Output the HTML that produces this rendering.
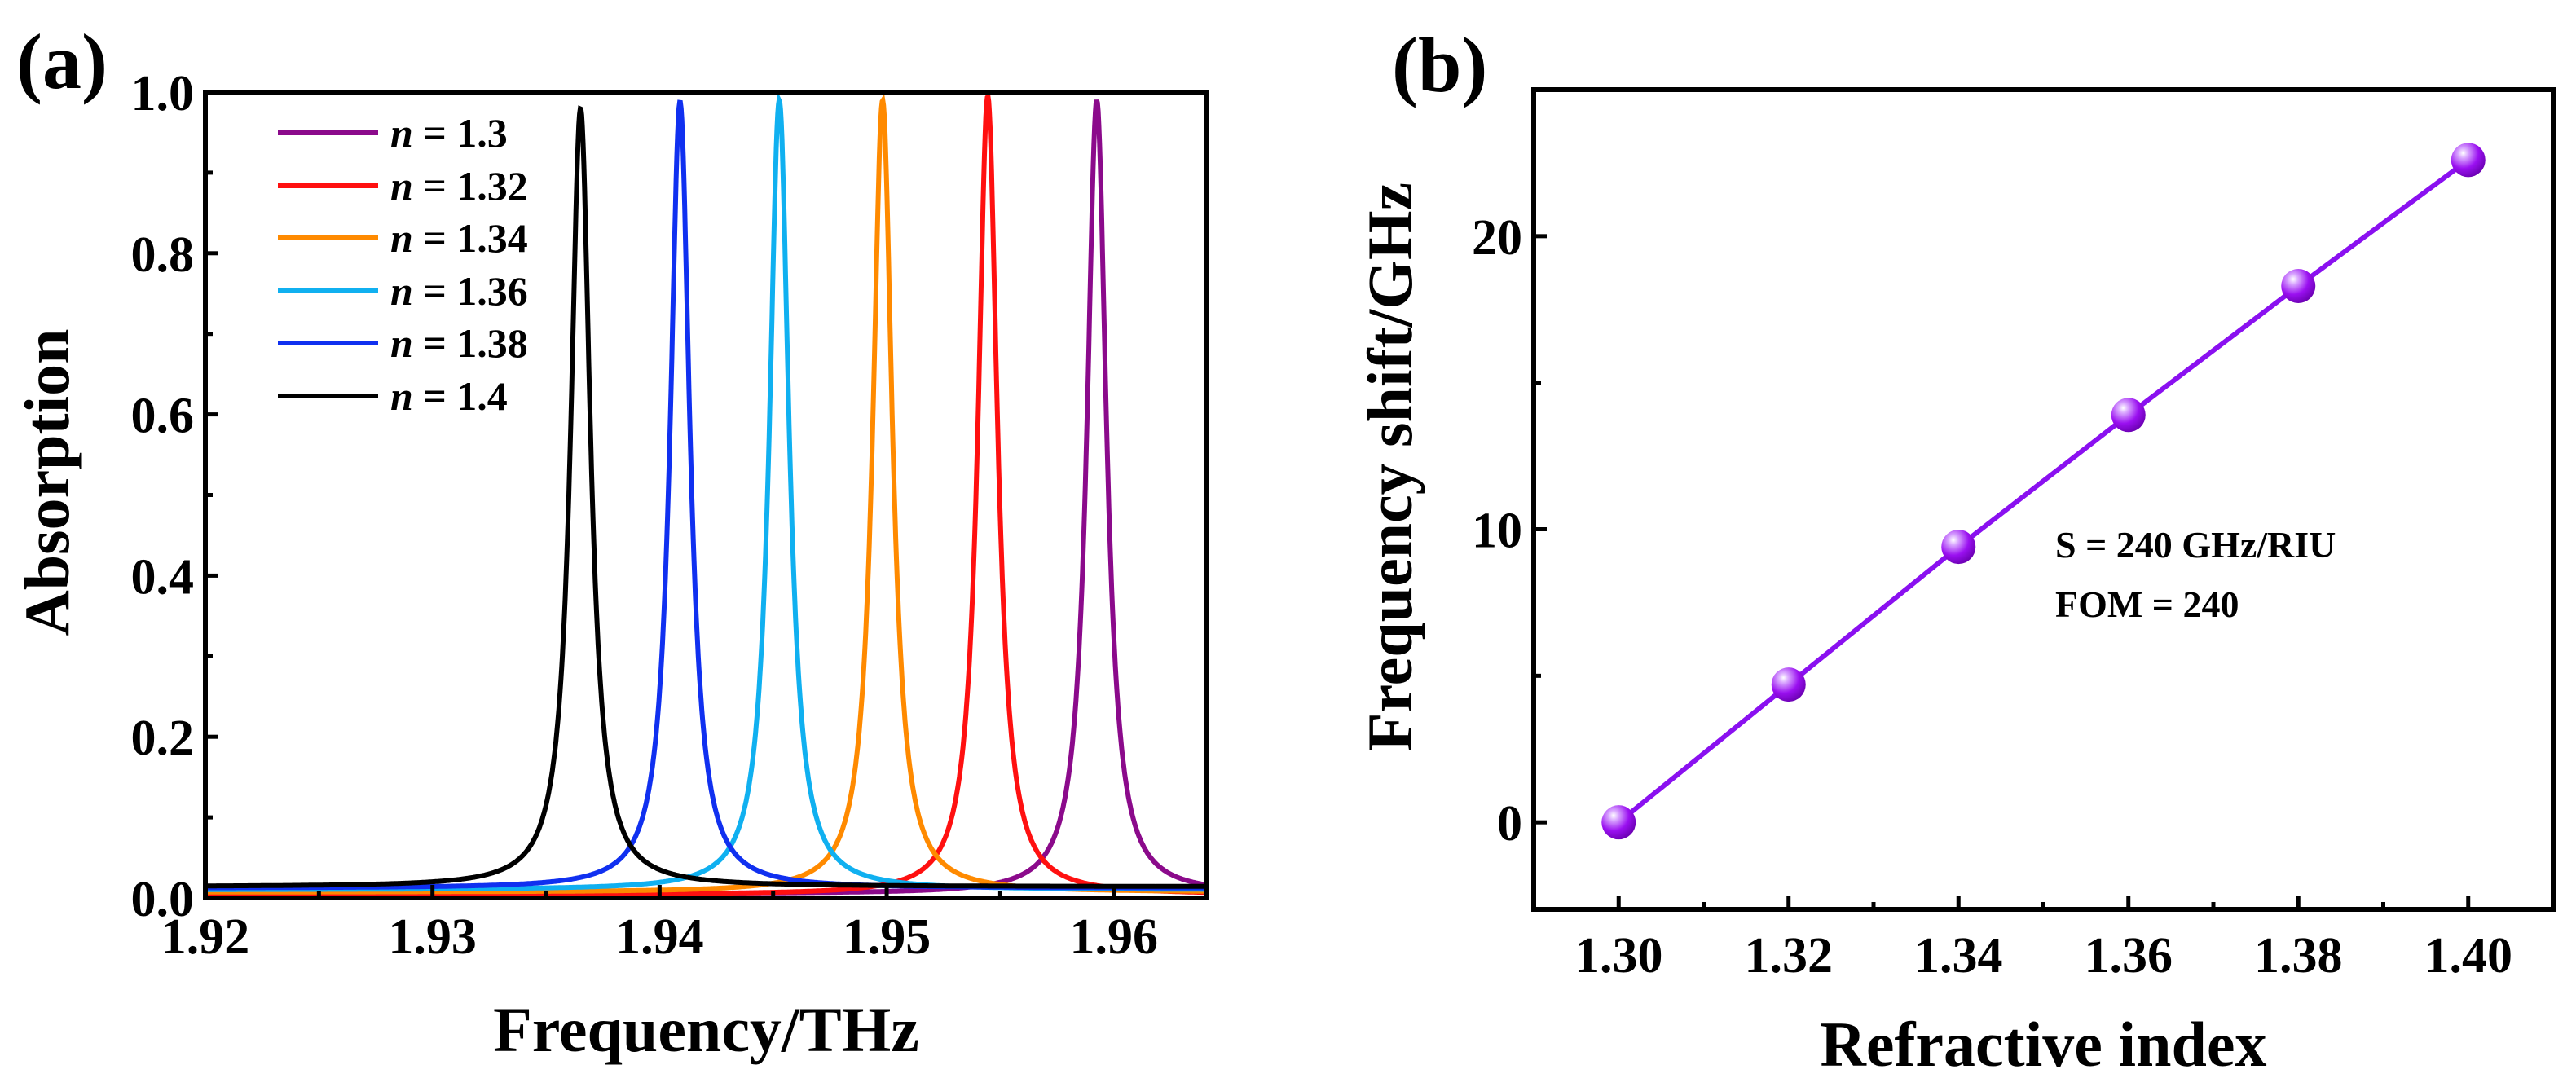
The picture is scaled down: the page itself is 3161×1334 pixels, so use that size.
<!DOCTYPE html>
<html><head><meta charset="utf-8"><style>
html,body{margin:0;padding:0;background:#fff;overflow:hidden;}
svg{display:block;}
text{font-family:"Liberation Serif",serif;font-weight:bold;fill:#000;}
</style></head><body>
<svg id="fig" width="3161" height="1334" viewBox="0 0 3161 1334" xmlns="http://www.w3.org/2000/svg">
<defs>
<radialGradient id="ball" cx="0.35" cy="0.3" r="0.75">
<stop offset="0" stop-color="#ffffff"/><stop offset="0.2" stop-color="#d9a6ff"/><stop offset="0.6" stop-color="#9a10f0"/><stop offset="1" stop-color="#6a00b0"/>
</radialGradient>
<clipPath id="clipA"><rect x="252" y="113" width="1229" height="989"/></clipPath>
</defs>
</svg>
<script>
// Panel (a) data
const peakFreqs = [1.95925, 1.95445, 1.94982, 1.94527, 1.9409, 1.93652];
const peakHeights = [0.99, 0.995, 0.99, 0.99, 0.988, 0.98];
const baselines = [0.005, 0.004, 0.007, 0.01, 0.012, 0.014];
const seriesLabels = ['1.3','1.32','1.34','1.36','1.38','1.4'];
const seriesColors = ['#8b0a8b','#ff1010','#ff8a00','#10b0f0','#1030f0','#000000'];
const xTicksA = [1.92,1.93,1.94,1.95,1.96];
const yTicksA = [0,0.2,0.4,0.6,0.8,1.0];
// Panel (b) data
const refIndex = [1.30,1.32,1.34,1.36,1.38,1.40];
const freqShift = [0, 4.7, 9.4, 13.9, 18.3, 22.6];
const xTicksB = ['1.30','1.32','1.34','1.36','1.38','1.40'];
const yTicksB = [0,10,20];

const NS='http://www.w3.org/2000/svg';
const svg=document.getElementById('fig');
function mk(tag,attrs,parent){const e=document.createElementNS(NS,tag);for(const k in attrs)e.setAttribute(k,attrs[k]);(parent||svg).appendChild(e);return e;}

// ---- Panel A ----
const A={x0:252,x1:1481,y0:1102,y1:113,xmin:1.92,xmax:1.9641,ymin:0,ymax:1.0};
const ax=v=>A.x0+(v-A.xmin)/(A.xmax-A.xmin)*(A.x1-A.x0);
const ay=v=>A.y0-(v-A.ymin)/(A.ymax-A.ymin)*(A.y0-A.y1);
const gA=mk('g',{});


const gam=0.00052;
for(let s=0;s<peakFreqs.length;s++){
  let d='';
  for(let i=0;i<=1400;i++){
    const f=A.xmin+(A.xmax-A.xmin)*i/1400;
    const dx=(f-peakFreqs[s])/gam;
    const v=baselines[s]+(peakHeights[s]-baselines[s])/(1+dx*dx);
    d+=(i?'L':'M')+ax(f).toFixed(1)+' '+ay(v).toFixed(1);
  }
  const p=mk('path',{d:d,fill:'none',stroke:seriesColors[s],'stroke-width':6,'clip-path':'url(#clipA)'},gA);
  
  
}
const frA=mk('rect',{x:A.x0,y:A.y1,width:A.x1-A.x0,height:A.y0-A.y1,fill:'none',stroke:'#000','stroke-width':6},gA);


xTicksA.forEach(v=>{
  const x=ax(v);
  mk('line',{x1:x,y1:A.y0,x2:x,y2:A.y0-16,stroke:'#000','stroke-width':5},gA);
  const t=mk('text',{x:x,y:1170,'font-size':62,'text-anchor':'middle'},gA);t.textContent=v.toFixed(2);
  
  
});
for(let v=1.925;v<A.xmax;v+=0.01){const x=ax(v);mk('line',{x1:x,y1:A.y0,x2:x,y2:A.y0-9,stroke:'#000','stroke-width':5},gA);}
yTicksA.forEach(v=>{
  const y=ay(v);
  mk('line',{x1:A.x0,y1:y,x2:A.x0+16,y2:y,stroke:'#000','stroke-width':5},gA);
  const t=mk('text',{x:A.x0-14,y:y+22,'font-size':62,'text-anchor':'end'},gA);t.textContent=v.toFixed(1);
  
  
});
for(let v=0.1;v<1;v+=0.2){const y=ay(v);mk('line',{x1:A.x0,y1:y,x2:A.x0+9,y2:y,stroke:'#000','stroke-width':5},gA);}
let t=mk('text',{x:(A.x0+A.x1)/2,y:1290,'font-size':78,'text-anchor':'middle'},gA);t.textContent='Frequency/THz';


t=mk('text',{x:0,y:0,'font-size':78,'text-anchor':'middle',transform:'translate(84,592) rotate(-90)'},gA);t.textContent='Absorption';


t=mk('text',{x:20,y:108,'font-size':96},gA);t.textContent='(a)';


const legY=[163,228,292,357,421,486];
for(let s=0;s<seriesLabels.length;s++){
  const g=mk('g',{},gA);
  
  
  mk('line',{x1:341,y1:legY[s],x2:464,y2:legY[s],stroke:seriesColors[s],'stroke-width':6},g);
  const tx=mk('text',{x:479,y:legY[s]+17,'font-size':50},g);
  const it=mk('tspan',{'font-style':'italic'},tx);it.textContent='n';
  const r=mk('tspan',{},tx);r.textContent=' = '+seriesLabels[s];
}

// ---- Panel B ----
const B={x0:1882,x1:3133,y0:1116,y1:110,xmin:1.29,xmax:1.41,ymin:-2.97,ymax:25};
const bx=v=>B.x0+(v-B.xmin)/(B.xmax-B.xmin)*(B.x1-B.x0);
const by=v=>B.y0-(v-B.ymin)/(B.ymax-B.ymin)*(B.y0-B.y1);
const gB=mk('g',{});


const frB=mk('rect',{x:B.x0,y:B.y1,width:B.x1-B.x0,height:B.y0-B.y1,fill:'none',stroke:'#000','stroke-width':6},gB);


xTicksB.forEach(s=>{
  const x=bx(parseFloat(s));
  mk('line',{x1:x,y1:B.y0,x2:x,y2:B.y0-16,stroke:'#000','stroke-width':5},gB);
  const tt=mk('text',{x:x,y:1193,'font-size':62,'text-anchor':'middle'},gB);tt.textContent=s;
  
  
});
for(let v=1.31;v<1.405;v+=0.02){const x=bx(v);mk('line',{x1:x,y1:B.y0,x2:x,y2:B.y0-9,stroke:'#000','stroke-width':5},gB);}
yTicksB.forEach(v=>{
  const y=by(v);
  mk('line',{x1:B.x0,y1:y,x2:B.x0+16,y2:y,stroke:'#000','stroke-width':5},gB);
  const tt=mk('text',{x:B.x0-14,y:y+22,'font-size':62,'text-anchor':'end'},gB);tt.textContent=v;
  
  
});
[5,15].forEach(v=>{const y=by(v);mk('line',{x1:B.x0,y1:y,x2:B.x0+9,y2:y,stroke:'#000','stroke-width':5},gB);});
let d='';refIndex.forEach((v,i)=>{d+=(i?'L':'M')+bx(v)+' '+by(freqShift[i]);});
const ln=mk('path',{d:d,fill:'none',stroke:'#8a10f0','stroke-width':6},gB);


refIndex.forEach((v,i)=>{
  const c=mk('circle',{cx:bx(v),cy:by(freqShift[i]),r:21,fill:'url(#ball)'},gB);
  
  
});
t=mk('text',{x:2522,y:684,'font-size':46},gB);t.textContent='S = 240 GHz/RIU';


t=mk('text',{x:2522,y:757,'font-size':46},gB);t.textContent='FOM = 240';


t=mk('text',{x:(B.x0+B.x1)/2,y:1308,'font-size':78,'text-anchor':'middle'},gB);t.textContent='Refractive index';


t=mk('text',{x:0,y:0,'font-size':78,'text-anchor':'middle',transform:'translate(1732,573) rotate(-90)'},gB);t.textContent='Frequency shift/GHz';


t=mk('text',{x:1708,y:112,'font-size':96},gB);t.textContent='(b)';


</script>
</body></html>
